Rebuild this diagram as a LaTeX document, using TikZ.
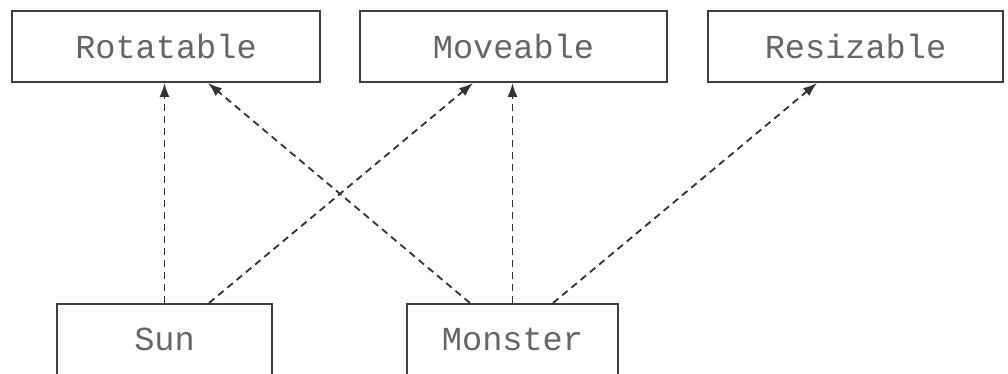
\documentclass[tikz,border=0pt]{standalone}
\usepackage{fontspec}
\setmonofont{Liberation Mono}
\usetikzlibrary{arrows.meta}

\begin{document}
\begin{tikzpicture}[x=0.5pt,y=0.5pt,
  iface/.style={draw=black!75,line width=1pt,inner sep=0pt,minimum height=35.5pt,
    text=black!60,font=\ttfamily\fontsize{16.8}{20}\selectfont},
  dep/.style={draw=black!80,line width=0.9pt,dash pattern=on 3.5pt off 2.5pt,
    -{Latex[length=7pt,width=5pt]}}]
\useasboundingbox (0,0) rectangle (1008,374);
% interfaces
\node[iface,minimum width=154pt] (rot) at (166,327.5) {Rotatable};
\node[iface,minimum width=153.5pt] (mov) at (513.5,327.5) {Moveable};
\node[iface,minimum width=147.5pt] (res) at (855.5,327.5) {Resizable};
% classes
\node[iface,minimum width=107.5pt] (sun) at (164.5,34.5) {Sun};
\node[iface,minimum width=105.5pt] (mon) at (512.5,34.5) {Monster};
% implements
\draw[dep] (sun.north) -- (sun.north |- rot.south);
\draw[dep] ([xshift=22.25pt]sun.north) -- ([xshift=-20.25pt]mov.south);
\draw[dep] ([xshift=-21.25pt]mon.north) -- ([xshift=21pt]rot.south);
\draw[dep] (mon.north) -- (mon.north |- mov.south);
\draw[dep] ([xshift=20.25pt]mon.north) -- ([xshift=-19.25pt]res.south);
\end{tikzpicture}
\end{document}
